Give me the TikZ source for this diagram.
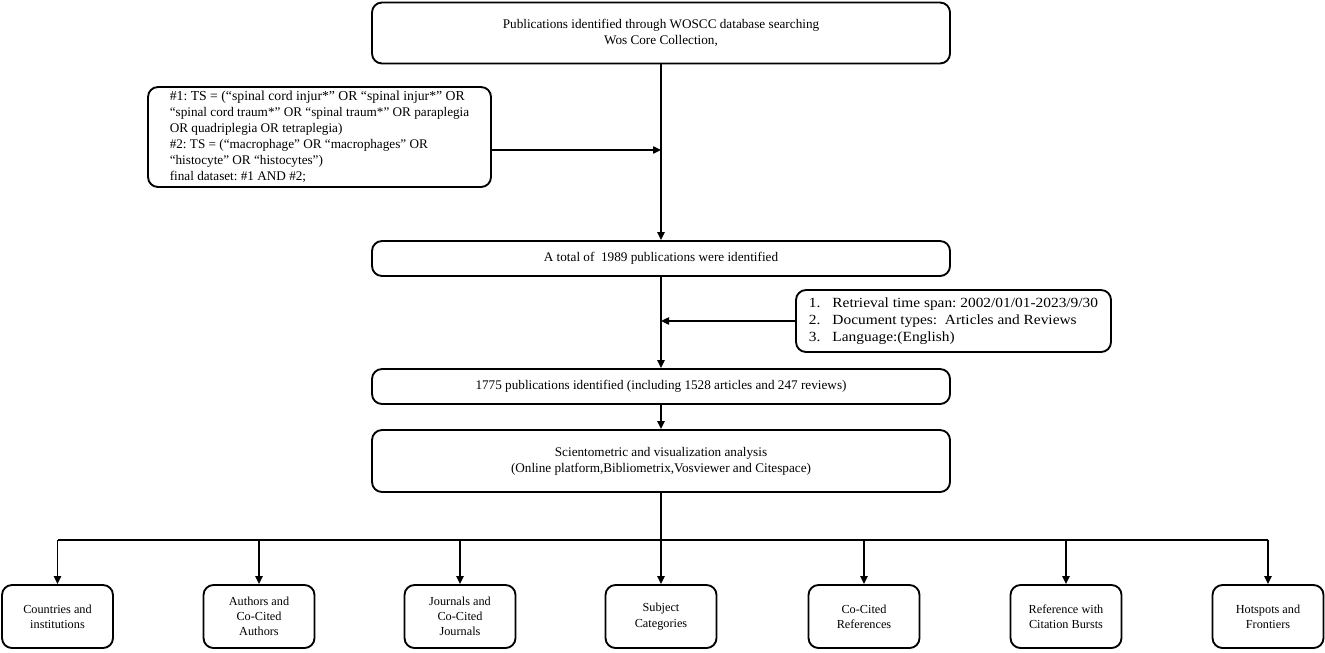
\documentclass[tikz,border=0pt]{standalone}
\usepackage{fontspec}
\setmainfont{Liberation Serif}
\newfontfamily\widefont[FakeStretch=1.1]{Liberation Serif}
\usetikzlibrary{arrows.meta}
\frenchspacing
\begin{document}
\begin{tikzpicture}[x=0.75pt,y=-0.75pt,
  box/.style={draw, line width=1.4pt, rounded corners=7.5pt, align=center, inner sep=0pt, font=\fontsize{9.9pt}{12pt}\selectfont},
  conn/.style={line width=1pt},
  arr/.style={conn, -{Triangle[length=6pt,width=5.5pt]}}]
\useasboundingbox (0,0) rectangle (1325,653);
% main column
\node[box, minimum width=578*0.75pt, minimum height=61*0.75pt] (top) at (661,33)
  {Publications identified through WOSCC database searching\\Wos Core Collection,};
\node[box, minimum width=343*0.75pt, minimum height=100*0.75pt, align=left] (query) at (319.5,137)
  {\fontsize{10.3pt}{12.2pt}\selectfont
   \#1: TS = (“spinal cord injur*” OR “spinal injur*” OR\\
   “spinal cord traum*” OR “spinal traum*” OR paraplegia\\
   OR quadriplegia OR tetraplegia)\\
   \#2: TS = (“macrophage” OR “macrophages” OR\\
   “histocyte” OR “histocytes”)\\
   final dataset: \#1 AND \#2;};
\node[box, minimum width=578*0.75pt, minimum height=35*0.75pt] (total) at (661,258.5)
  {A total of \ 1989 publications were identified};
\node[box, minimum width=315*0.75pt, minimum height=62*0.75pt] (filter) at (953.5,321)
  {\widefont\fontsize{10.5pt}{13.1pt}\selectfont
   \begin{tabular}{@{}l@{\hspace{9pt}}l@{}}
   1. & Retrieval time span: 2002/01/01-2023/9/30\\
   2. & Document types: \ Articles and Reviews\\
   3. & Language:(English)
   \end{tabular}};
\node[box, minimum width=578*0.75pt, minimum height=35*0.75pt] (final) at (661,386.5)
  {1775 publications identified (including 1528 articles and 247 reviews)};
\node[box, minimum width=578*0.75pt, minimum height=62*0.75pt] (analysis) at (661,461)
  {Scientometric and visualization analysis\\(Online platform,Bibliometrix,Vosviewer and Citespace)};
% bottom boxes
\tikzset{leaf/.style={box, minimum width=111*0.75pt, minimum height=63*0.75pt, font=\fontsize{9.2pt}{11.4pt}\selectfont}}
\node[leaf] (b1) at (57.5,616.5) {Countries and\\institutions};
\node[leaf] (b2) at (259,616.5) {Authors and\\Co-Cited\\Authors};
\node[leaf] (b3) at (460,616.5) {Journals and\\Co-Cited\\Journals};
\node[leaf] (b4) at (661,616.5) {Subject\\Categories};
\node[leaf] (b5) at (864,616.5) {Co-Cited\\References};
\node[leaf] (b6) at (1066,616.5) {Reference with\\Citation Bursts};
\node[leaf] (b7) at (1268,616.5) {Hotspots and\\Frontiers};
% connectors
\coordinate (qin) at (661,150);
\coordinate (fin) at (661,321);
\coordinate (hub) at (661,540);
\draw[arr] (top.south -| qin) -- (total.north -| qin);
\draw[arr] (query.east |- qin) -- (qin);
\draw[arr] (total.south -| qin) -- (final.north -| qin);
\draw[arr] (filter.west |- fin) -- (fin);
\draw[arr] (final.south -| qin) -- (analysis.north -| qin);
\draw[conn] (analysis.south -| hub) -- (hub);
\draw[conn] (b1.north |- hub) -- (b7.north |- hub);
\foreach \b in {b1,b2,b3,b4,b5,b6,b7}
  \draw[arr] (\b.north |- hub) -- (\b.north);
\end{tikzpicture}
\end{document}
